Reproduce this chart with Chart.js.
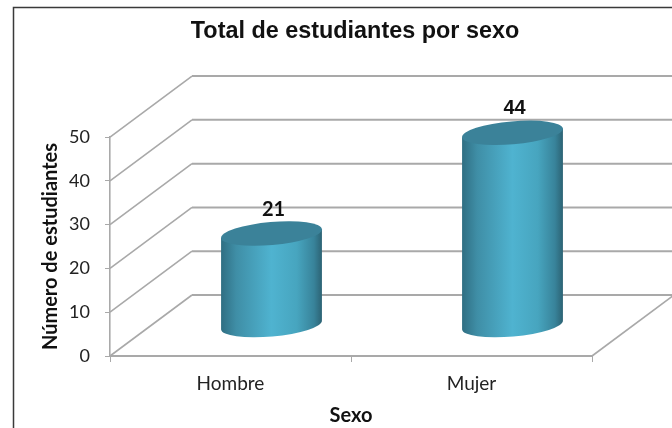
<!DOCTYPE html>
<html><head><meta charset="utf-8">
<script src="https://cdn.jsdelivr.net/npm/chart.js@4"></script>
<style>html,body{margin:0;padding:0;background:#fff;overflow:hidden}#w{width:672px;height:428px;position:relative}</style>
</head><body><div id="w"><canvas id="c" width="672" height="428"></canvas></div>
<script>
const categories = ['Hombre', 'Mujer'];
const values = [21, 44];
const yTicks = [0, 10, 20, 30, 40, 50];
const titleText = 'Total de estudiantes por sexo';
const yTitle = 'Número de estudiantes';
const xTitle = 'Sexo';
const labelFonts = ['bold 20px Lato', 'bold 20px "Liberation Sans"'];

const DX = 82, DY = -61, GRAY = '#a9a9a9';

const scene = {
  id: 'scene',
  afterLayout(chart) {
    const t = chart.titleBlock;
    t.left = 155; t.right = 555;
  },
  beforeDatasetsDraw(chart) {
    const {ctx, scales: {x, y}} = chart;
    const x0 = x.left, x1 = x.right;
    ctx.save();
    ctx.strokeStyle = '#3a3a3a'; ctx.lineWidth = 1.5;
    ctx.beginPath(); ctx.moveTo(13.5, 428); ctx.lineTo(13.5, 7.5); ctx.lineTo(672, 7.5); ctx.stroke();
    ctx.strokeStyle = GRAY;
    yTicks.forEach(v => {
      const py = y.getPixelForValue(v);
      ctx.lineWidth = 1.6;
      ctx.beginPath(); ctx.moveTo(x0, py); ctx.lineTo(x0 + DX, py + DY); ctx.stroke();
      ctx.lineWidth = 2;
      ctx.beginPath(); ctx.moveTo(x0 + DX, py + DY); ctx.lineTo(x1 + DX, py + DY); ctx.stroke();
    });
    const p0 = y.getPixelForValue(0);
    ctx.lineWidth = 1.6;
    ctx.beginPath(); ctx.moveTo(x1, p0); ctx.lineTo(x1 + DX, p0 + DY); ctx.stroke();
    ctx.restore();
  },
  afterDatasetsDraw(chart) {
    const {ctx} = chart;
    const meta = chart.getDatasetMeta(0);
    meta.data.forEach((bar, i) => {
      const a = bar.width / 2, b = 11.5, rot = -0.087;
      const cx = bar.x + DX / 2, top = bar.y + DY / 2, base = bar.base + DY / 2;
      const tx = a * Math.cos(rot), ty = a * Math.sin(rot);
      const g = ctx.createLinearGradient(cx - a, 0, cx + a, 0);
      g.addColorStop(0, '#2f6e82');
      g.addColorStop(0.15, '#3f8ea6');
      g.addColorStop(0.5, '#4fb3d0');
      g.addColorStop(0.75, '#47a5bf');
      g.addColorStop(0.92, '#38839a');
      g.addColorStop(1, '#2c6273');
      ctx.save();
      ctx.fillStyle = g;
      ctx.beginPath();
      ctx.moveTo(cx - tx, top - ty);
      ctx.lineTo(cx + tx, top + ty);
      ctx.lineTo(cx + tx, base + ty);
      ctx.ellipse(cx, base, a, b, rot, 0, Math.PI);
      ctx.closePath();
      ctx.fill();
      ctx.fillStyle = '#3b8299';
      ctx.beginPath();
      ctx.ellipse(cx, top, a, b, rot, 0, Math.PI * 2);
      ctx.fill();
      ctx.fillStyle = '#111';
      ctx.font = labelFonts[i];
      ctx.textAlign = 'center'; ctx.textBaseline = 'middle';
      ctx.fillText(String(values[i]), bar.x + 43, bar.y - 55);
      ctx.restore();
    });
  }
};

new Chart(document.getElementById('c'), {
  type: 'bar',
  data: {labels: categories, datasets: [{data: values, backgroundColor: 'rgba(0,0,0,0)', barPercentage: 0.42, categoryPercentage: 1}]},
  plugins: [scene],
  options: {
    responsive: false, animation: false,
    layout: {padding: {left: 0, right: 80, top: 0, bottom: 0}},
    plugins: {
      legend: {display: false}, tooltip: {enabled: false},
      title: {display: true, text: titleText, color: '#111', font: {family: '"Liberation Sans"', weight: 'bold', size: 23.4, lineHeight: 1.2}, padding: {top: 18, bottom: 91}}
    },
    scales: {
      x: {
        afterFit(s) { s.height = 72; },
        grid: {drawOnChartArea: false, offset: true, tickLength: 6, tickColor: GRAY},
        border: {color: GRAY, width: 2},
        ticks: {color: '#222', font: {family: 'Lato', size: 19}, padding: 10, maxRotation: 0},
        title: {display: true, text: xTitle, color: '#111', font: {family: 'Lato', weight: 'bold', size: 20}, padding: {top: 14, bottom: 0}}
      },
      y: {
        min: 0, max: 50,
        afterFit(s) { s.width = 110; },
        afterBuildTicks(s) { s.ticks = yTicks.map(v => ({value: v})); },
        grid: {drawOnChartArea: false, tickLength: 5, tickColor: GRAY},
        border: {color: GRAY, width: 1.6},
        ticks: {color: '#222', font: {family: 'Lato', size: 18}, padding: 15},
        title: {display: true, text: yTitle, color: '#111', font: {family: 'Lato', weight: 'bold', size: 20}, padding: {top: 39, bottom: 0}}
      }
    }
  }
});
</script></body></html>
